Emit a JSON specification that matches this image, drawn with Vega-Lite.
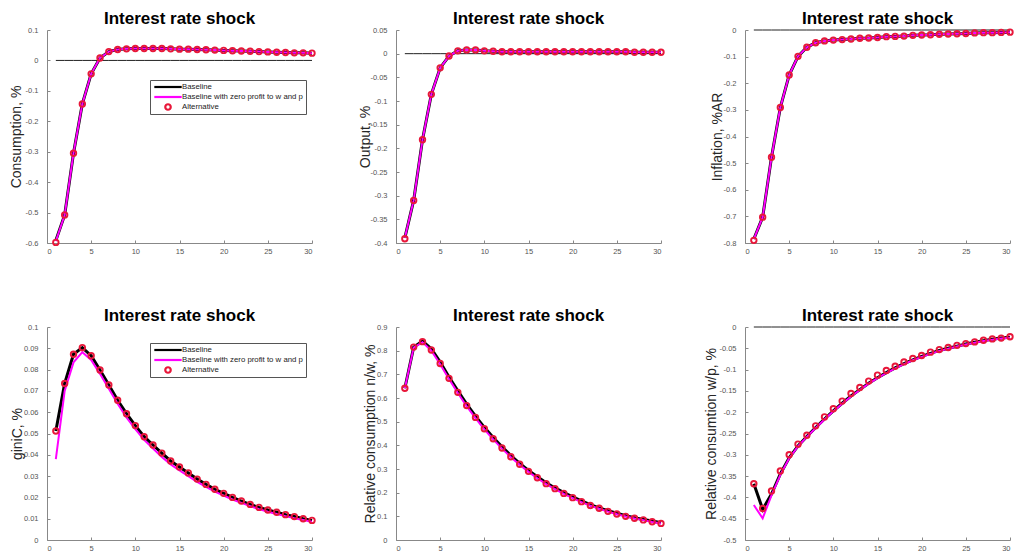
{
  "$schema": "https://vega.github.io/schema/vega-lite/v6.json",
  "padding": {"left": 9, "top": 9, "right": 5, "bottom": 3},
  "data": {"values": [
    {"p":1,"t":1,"b":-0.592,"z":-0.594,"a":-0.598},
    {"p":1,"t":2,"b":-0.508,"z":-0.508,"a":-0.508},
    {"p":1,"t":3,"b":-0.305,"z":-0.305,"a":-0.305},
    {"p":1,"t":4,"b":-0.143,"z":-0.143,"a":-0.143},
    {"p":1,"t":5,"b":-0.044,"z":-0.044,"a":-0.044},
    {"p":1,"t":6,"b":0.008,"z":0.008,"a":0.008},
    {"p":1,"t":7,"b":0.029,"z":0.029,"a":0.029},
    {"p":1,"t":8,"b":0.036,"z":0.036,"a":0.036},
    {"p":1,"t":9,"b":0.038,"z":0.038,"a":0.038},
    {"p":1,"t":10,"b":0.039,"z":0.039,"a":0.039},
    {"p":1,"t":11,"b":0.039,"z":0.039,"a":0.039},
    {"p":1,"t":12,"b":0.039,"z":0.039,"a":0.039},
    {"p":1,"t":13,"b":0.039,"z":0.039,"a":0.039},
    {"p":1,"t":14,"b":0.038,"z":0.038,"a":0.038},
    {"p":1,"t":15,"b":0.037,"z":0.037,"a":0.037},
    {"p":1,"t":16,"b":0.037,"z":0.037,"a":0.037},
    {"p":1,"t":17,"b":0.036,"z":0.036,"a":0.036},
    {"p":1,"t":18,"b":0.035,"z":0.035,"a":0.035},
    {"p":1,"t":19,"b":0.034,"z":0.034,"a":0.034},
    {"p":1,"t":20,"b":0.033,"z":0.033,"a":0.033},
    {"p":1,"t":21,"b":0.032,"z":0.032,"a":0.032},
    {"p":1,"t":22,"b":0.031,"z":0.031,"a":0.031},
    {"p":1,"t":23,"b":0.030,"z":0.030,"a":0.030},
    {"p":1,"t":24,"b":0.029,"z":0.029,"a":0.029},
    {"p":1,"t":25,"b":0.028,"z":0.028,"a":0.028},
    {"p":1,"t":26,"b":0.027,"z":0.027,"a":0.027},
    {"p":1,"t":27,"b":0.026,"z":0.026,"a":0.026},
    {"p":1,"t":28,"b":0.025,"z":0.025,"a":0.025},
    {"p":1,"t":29,"b":0.025,"z":0.025,"a":0.025},
    {"p":1,"t":30,"b":0.024,"z":0.024,"a":0.024},
    {"p":2,"t":1,"b":-0.389,"z":-0.389,"a":-0.391},
    {"p":2,"t":2,"b":-0.310,"z":-0.310,"a":-0.310},
    {"p":2,"t":3,"b":-0.182,"z":-0.182,"a":-0.182},
    {"p":2,"t":4,"b":-0.086,"z":-0.086,"a":-0.086},
    {"p":2,"t":5,"b":-0.030,"z":-0.030,"a":-0.030},
    {"p":2,"t":6,"b":-0.005,"z":-0.005,"a":-0.005},
    {"p":2,"t":7,"b":0.006,"z":0.006,"a":0.006},
    {"p":2,"t":8,"b":0.008,"z":0.008,"a":0.008},
    {"p":2,"t":9,"b":0.008,"z":0.008,"a":0.008},
    {"p":2,"t":10,"b":0.006,"z":0.006,"a":0.006},
    {"p":2,"t":11,"b":0.005,"z":0.005,"a":0.005},
    {"p":2,"t":12,"b":0.004,"z":0.004,"a":0.004},
    {"p":2,"t":13,"b":0.004,"z":0.004,"a":0.004},
    {"p":2,"t":14,"b":0.004,"z":0.004,"a":0.004},
    {"p":2,"t":15,"b":0.004,"z":0.004,"a":0.004},
    {"p":2,"t":16,"b":0.004,"z":0.004,"a":0.004},
    {"p":2,"t":17,"b":0.004,"z":0.004,"a":0.004},
    {"p":2,"t":18,"b":0.004,"z":0.004,"a":0.004},
    {"p":2,"t":19,"b":0.004,"z":0.004,"a":0.004},
    {"p":2,"t":20,"b":0.004,"z":0.004,"a":0.004},
    {"p":2,"t":21,"b":0.004,"z":0.004,"a":0.004},
    {"p":2,"t":22,"b":0.004,"z":0.004,"a":0.004},
    {"p":2,"t":23,"b":0.004,"z":0.004,"a":0.004},
    {"p":2,"t":24,"b":0.004,"z":0.004,"a":0.004},
    {"p":2,"t":25,"b":0.004,"z":0.004,"a":0.004},
    {"p":2,"t":26,"b":0.004,"z":0.004,"a":0.004},
    {"p":2,"t":27,"b":0.003,"z":0.003,"a":0.003},
    {"p":2,"t":28,"b":0.003,"z":0.003,"a":0.003},
    {"p":2,"t":29,"b":0.003,"z":0.003,"a":0.003},
    {"p":2,"t":30,"b":0.003,"z":0.003,"a":0.003},
    {"p":3,"t":1,"b":-0.785,"z":-0.785,"a":-0.790},
    {"p":3,"t":2,"b":-0.703,"z":-0.703,"a":-0.703},
    {"p":3,"t":3,"b":-0.478,"z":-0.478,"a":-0.478},
    {"p":3,"t":4,"b":-0.291,"z":-0.291,"a":-0.291},
    {"p":3,"t":5,"b":-0.169,"z":-0.169,"a":-0.169},
    {"p":3,"t":6,"b":-0.099,"z":-0.099,"a":-0.099},
    {"p":3,"t":7,"b":-0.065,"z":-0.065,"a":-0.065},
    {"p":3,"t":8,"b":-0.048,"z":-0.048,"a":-0.048},
    {"p":3,"t":9,"b":-0.041,"z":-0.041,"a":-0.041},
    {"p":3,"t":10,"b":-0.038,"z":-0.038,"a":-0.038},
    {"p":3,"t":11,"b":-0.036,"z":-0.036,"a":-0.036},
    {"p":3,"t":12,"b":-0.034,"z":-0.034,"a":-0.034},
    {"p":3,"t":13,"b":-0.031,"z":-0.031,"a":-0.031},
    {"p":3,"t":14,"b":-0.030,"z":-0.030,"a":-0.030},
    {"p":3,"t":15,"b":-0.028,"z":-0.028,"a":-0.028},
    {"p":3,"t":16,"b":-0.025,"z":-0.025,"a":-0.025},
    {"p":3,"t":17,"b":-0.024,"z":-0.024,"a":-0.024},
    {"p":3,"t":18,"b":-0.023,"z":-0.023,"a":-0.023},
    {"p":3,"t":19,"b":-0.020,"z":-0.020,"a":-0.020},
    {"p":3,"t":20,"b":-0.019,"z":-0.019,"a":-0.019},
    {"p":3,"t":21,"b":-0.018,"z":-0.018,"a":-0.018},
    {"p":3,"t":22,"b":-0.016,"z":-0.016,"a":-0.016},
    {"p":3,"t":23,"b":-0.015,"z":-0.015,"a":-0.015},
    {"p":3,"t":24,"b":-0.014,"z":-0.014,"a":-0.014},
    {"p":3,"t":25,"b":-0.013,"z":-0.013,"a":-0.013},
    {"p":3,"t":26,"b":-0.011,"z":-0.011,"a":-0.011},
    {"p":3,"t":27,"b":-0.010,"z":-0.010,"a":-0.010},
    {"p":3,"t":28,"b":-0.010,"z":-0.010,"a":-0.010},
    {"p":3,"t":29,"b":-0.009,"z":-0.009,"a":-0.009},
    {"p":3,"t":30,"b":-0.008,"z":-0.008,"a":-0.008},
    {"p":4,"t":1,"b":0.0512,"z":0.0380,"a":0.0512},
    {"p":4,"t":2,"b":0.0735,"z":0.0700,"a":0.0735},
    {"p":4,"t":3,"b":0.0872,"z":0.0834,"a":0.0872},
    {"p":4,"t":4,"b":0.0903,"z":0.0882,"a":0.0903},
    {"p":4,"t":5,"b":0.0865,"z":0.0845,"a":0.0865},
    {"p":4,"t":6,"b":0.0798,"z":0.0780,"a":0.0798},
    {"p":4,"t":7,"b":0.0728,"z":0.0710,"a":0.0728},
    {"p":4,"t":8,"b":0.0656,"z":0.0640,"a":0.0656},
    {"p":4,"t":9,"b":0.0593,"z":0.0575,"a":0.0593},
    {"p":4,"t":10,"b":0.0537,"z":0.0520,"a":0.0537},
    {"p":4,"t":11,"b":0.0485,"z":0.0470,"a":0.0485},
    {"p":4,"t":12,"b":0.0446,"z":0.0430,"a":0.0446},
    {"p":4,"t":13,"b":0.0408,"z":0.0390,"a":0.0408},
    {"p":4,"t":14,"b":0.0371,"z":0.0355,"a":0.0371},
    {"p":4,"t":15,"b":0.0343,"z":0.0327,"a":0.0343},
    {"p":4,"t":16,"b":0.0315,"z":0.0300,"a":0.0315},
    {"p":4,"t":17,"b":0.0286,"z":0.0273,"a":0.0286},
    {"p":4,"t":18,"b":0.0261,"z":0.0249,"a":0.0261},
    {"p":4,"t":19,"b":0.0238,"z":0.0227,"a":0.0238},
    {"p":4,"t":20,"b":0.0219,"z":0.0208,"a":0.0219},
    {"p":4,"t":21,"b":0.0200,"z":0.0190,"a":0.0200},
    {"p":4,"t":22,"b":0.0183,"z":0.0174,"a":0.0183},
    {"p":4,"t":23,"b":0.0167,"z":0.0159,"a":0.0167},
    {"p":4,"t":24,"b":0.0153,"z":0.0145,"a":0.0153},
    {"p":4,"t":25,"b":0.0141,"z":0.0133,"a":0.0141},
    {"p":4,"t":26,"b":0.0130,"z":0.0122,"a":0.0130},
    {"p":4,"t":27,"b":0.0119,"z":0.0112,"a":0.0119},
    {"p":4,"t":28,"b":0.0110,"z":0.0102,"a":0.0110},
    {"p":4,"t":29,"b":0.0100,"z":0.0094,"a":0.0100},
    {"p":4,"t":30,"b":0.0092,"z":0.0086,"a":0.0092},
    {"p":5,"t":1,"b":0.641,"z":0.641,"a":0.641},
    {"p":5,"t":2,"b":0.815,"z":0.813,"a":0.815},
    {"p":5,"t":3,"b":0.840,"z":0.836,"a":0.838},
    {"p":5,"t":4,"b":0.808,"z":0.800,"a":0.803},
    {"p":5,"t":5,"b":0.752,"z":0.743,"a":0.746},
    {"p":5,"t":6,"b":0.689,"z":0.680,"a":0.683},
    {"p":5,"t":7,"b":0.630,"z":0.621,"a":0.624},
    {"p":5,"t":8,"b":0.574,"z":0.565,"a":0.568},
    {"p":5,"t":9,"b":0.523,"z":0.515,"a":0.518},
    {"p":5,"t":10,"b":0.476,"z":0.467,"a":0.470},
    {"p":5,"t":11,"b":0.433,"z":0.425,"a":0.428},
    {"p":5,"t":12,"b":0.394,"z":0.386,"a":0.389},
    {"p":5,"t":13,"b":0.357,"z":0.350,"a":0.352},
    {"p":5,"t":14,"b":0.324,"z":0.318,"a":0.320},
    {"p":5,"t":15,"b":0.294,"z":0.288,"a":0.290},
    {"p":5,"t":16,"b":0.267,"z":0.261,"a":0.263},
    {"p":5,"t":17,"b":0.242,"z":0.236,"a":0.238},
    {"p":5,"t":18,"b":0.220,"z":0.215,"a":0.217},
    {"p":5,"t":19,"b":0.200,"z":0.195,"a":0.197},
    {"p":5,"t":20,"b":0.182,"z":0.177,"a":0.179},
    {"p":5,"t":21,"b":0.165,"z":0.160,"a":0.162},
    {"p":5,"t":22,"b":0.149,"z":0.145,"a":0.146},
    {"p":5,"t":23,"b":0.136,"z":0.132,"a":0.134},
    {"p":5,"t":24,"b":0.124,"z":0.120,"a":0.121},
    {"p":5,"t":25,"b":0.113,"z":0.109,"a":0.110},
    {"p":5,"t":26,"b":0.103,"z":0.099,"a":0.100},
    {"p":5,"t":27,"b":0.094,"z":0.091,"a":0.092},
    {"p":5,"t":28,"b":0.087,"z":0.084,"a":0.085},
    {"p":5,"t":29,"b":0.080,"z":0.076,"a":0.077},
    {"p":5,"t":30,"b":0.073,"z":0.070,"a":0.070},
    {"p":6,"t":1,"b":-0.368,"z":-0.418,"a":-0.368},
    {"p":6,"t":2,"b":-0.428,"z":-0.449,"a":-0.426},
    {"p":6,"t":3,"b":-0.392,"z":-0.395,"a":-0.385},
    {"p":6,"t":4,"b":-0.345,"z":-0.347,"a":-0.338},
    {"p":6,"t":5,"b":-0.307,"z":-0.308,"a":-0.300},
    {"p":6,"t":6,"b":-0.279,"z":-0.280,"a":-0.275},
    {"p":6,"t":7,"b":-0.257,"z":-0.258,"a":-0.254},
    {"p":6,"t":8,"b":-0.236,"z":-0.237,"a":-0.232},
    {"p":6,"t":9,"b":-0.216,"z":-0.217,"a":-0.211},
    {"p":6,"t":10,"b":-0.197,"z":-0.198,"a":-0.192},
    {"p":6,"t":11,"b":-0.179,"z":-0.180,"a":-0.174},
    {"p":6,"t":12,"b":-0.162,"z":-0.163,"a":-0.156},
    {"p":6,"t":13,"b":-0.147,"z":-0.148,"a":-0.142},
    {"p":6,"t":14,"b":-0.132,"z":-0.133,"a":-0.127},
    {"p":6,"t":15,"b":-0.119,"z":-0.120,"a":-0.113},
    {"p":6,"t":16,"b":-0.107,"z":-0.108,"a":-0.102},
    {"p":6,"t":17,"b":-0.096,"z":-0.097,"a":-0.092},
    {"p":6,"t":18,"b":-0.086,"z":-0.087,"a":-0.082},
    {"p":6,"t":19,"b":-0.077,"z":-0.078,"a":-0.074},
    {"p":6,"t":20,"b":-0.069,"z":-0.070,"a":-0.067},
    {"p":6,"t":21,"b":-0.062,"z":-0.063,"a":-0.059},
    {"p":6,"t":22,"b":-0.055,"z":-0.056,"a":-0.053},
    {"p":6,"t":23,"b":-0.050,"z":-0.051,"a":-0.048},
    {"p":6,"t":24,"b":-0.045,"z":-0.046,"a":-0.043},
    {"p":6,"t":25,"b":-0.040,"z":-0.041,"a":-0.039},
    {"p":6,"t":26,"b":-0.036,"z":-0.037,"a":-0.035},
    {"p":6,"t":27,"b":-0.032,"z":-0.033,"a":-0.031},
    {"p":6,"t":28,"b":-0.029,"z":-0.030,"a":-0.028},
    {"p":6,"t":29,"b":-0.026,"z":-0.027,"a":-0.026},
    {"p":6,"t":30,"b":-0.024,"z":-0.025,"a":-0.023}
  ]},
  "columns": 3,
  "spacing": {"row": 84, "column": 84},
  "bounds": "flush",
  "resolve": {
    "scale": {"color": "independent", "shape": "independent"},
    "legend": {"color": "independent", "shape": "independent"}
  },
  "concat": [
    {
      "title": "Interest rate shock",
      "width": 265, "height": 213,
      "transform": [{"filter": "datum.p == 1"}, {"fold": ["b", "z", "a"], "as": ["s", "v"]}],
      "encoding": {
        "x": {"field": "t", "type": "quantitative", "scale": {"domain": [0, 30], "nice": false}, "axis": {"title": null, "values": [0, 5, 10, 15, 20, 25, 30], "labelExpr": "'' + datum.value"}},
        "y": {"field": "v", "type": "quantitative", "scale": {"domain": [-0.6, 0.1], "nice": false, "zero": false}, "axis": {"title": "Consumption, %", "titleX": -31, "values": [0.1, 0, -0.1, -0.2, -0.3, -0.4, -0.5, -0.6], "labelExpr": "'' + datum.value"}}
      },
      "layer": [
        {"transform": [{"filter": "datum.s == 'a'"}], "mark": {"type": "line", "color": "#222222", "strokeWidth": 1}, "encoding": {"y": {"datum": 0}}},
        {"transform": [{"filter": "datum.s == 'b'"}], "mark": {"type": "line", "strokeWidth": 3}, "encoding": {"color": {"field": "s", "type": "nominal", "scale": {"domain": ["b", "z", "a"], "range": ["#000000", "#ff00ff", "#e8173a"]}, "legend": {"title": null, "orient": "none", "legendX": 103, "legendY": 50, "labelExpr": "datum.label == 'b' ? 'Baseline' : datum.label == 'z' ? 'Baseline with zero profit to w and p' : 'Alternative'"}}}},
        {"transform": [{"filter": "datum.s == 'z'"}], "mark": {"type": "line", "strokeWidth": 2}, "encoding": {"color": {"field": "s", "type": "nominal", "scale": {"domain": ["b", "z", "a"], "range": ["#000000", "#ff00ff", "#e8173a"]}, "legend": {"title": null, "orient": "none", "legendX": 103, "legendY": 50, "labelExpr": "datum.label == 'b' ? 'Baseline' : datum.label == 'z' ? 'Baseline with zero profit to w and p' : 'Alternative'"}}}},
        {"transform": [{"filter": "datum.s == 'a'"}], "mark": {"type": "point", "filled": false, "strokeWidth": 1.9, "size": 30, "opacity": 1}, "encoding": {
          "color": {"field": "s", "type": "nominal", "scale": {"domain": ["b", "z", "a"], "range": ["#000000", "#ff00ff", "#e8173a"]}, "legend": {"title": null, "orient": "none", "legendX": 103, "legendY": 50, "labelExpr": "datum.label == 'b' ? 'Baseline' : datum.label == 'z' ? 'Baseline with zero profit to w and p' : 'Alternative'"}},
          "shape": {"field": "s", "type": "nominal", "scale": {"domain": ["b", "z", "a"], "range": ["M-5,0H5", "M-5,0H5", "circle"]}, "legend": {"title": null, "orient": "none", "legendX": 103, "legendY": 50, "labelExpr": "datum.label == 'b' ? 'Baseline' : datum.label == 'z' ? 'Baseline with zero profit to w and p' : 'Alternative'"}}
        }}
      ]
    },
    {
      "title": "Interest rate shock",
      "width": 265, "height": 213,
      "transform": [{"filter": "datum.p == 2"}, {"fold": ["b", "z", "a"], "as": ["s", "v"]}],
      "encoding": {
        "x": {"field": "t", "type": "quantitative", "scale": {"domain": [0, 30], "nice": false}, "axis": {"title": null, "values": [0, 5, 10, 15, 20, 25, 30], "labelExpr": "'' + datum.value"}},
        "y": {"field": "v", "type": "quantitative", "scale": {"domain": [-0.4, 0.05], "nice": false, "zero": false}, "axis": {"title": "Output, %", "titleX": -31, "values": [0.05, 0, -0.05, -0.1, -0.15, -0.2, -0.25, -0.3, -0.35, -0.4], "labelExpr": "'' + datum.value"}}
      },
      "layer": [
        {"transform": [{"filter": "datum.s == 'a'"}], "mark": {"type": "line", "color": "#222222", "strokeWidth": 1}, "encoding": {"y": {"datum": 0}}},
        {"transform": [{"filter": "datum.s == 'b'"}], "mark": {"type": "line", "strokeWidth": 3, "color": "#000000"}},
        {"transform": [{"filter": "datum.s == 'z'"}], "mark": {"type": "line", "strokeWidth": 2, "color": "#ff00ff"}},
        {"transform": [{"filter": "datum.s == 'a'"}], "mark": {"type": "point", "filled": false, "strokeWidth": 1.9, "size": 30, "opacity": 1, "color": "#e8173a"}}
      ]
    },
    {
      "title": "Interest rate shock",
      "width": 265, "height": 213,
      "transform": [{"filter": "datum.p == 3"}, {"fold": ["b", "z", "a"], "as": ["s", "v"]}],
      "encoding": {
        "x": {"field": "t", "type": "quantitative", "scale": {"domain": [0, 30], "nice": false}, "axis": {"title": null, "values": [0, 5, 10, 15, 20, 25, 30], "labelExpr": "'' + datum.value"}},
        "y": {"field": "v", "type": "quantitative", "scale": {"domain": [-0.8, 0], "nice": false, "zero": false}, "axis": {"title": "Inflation, %AR", "titleX": -28, "values": [0, -0.1, -0.2, -0.3, -0.4, -0.5, -0.6, -0.7, -0.8], "labelExpr": "'' + datum.value"}}
      },
      "layer": [
        {"transform": [{"filter": "datum.s == 'a'"}], "mark": {"type": "line", "color": "#222222", "strokeWidth": 1}, "encoding": {"y": {"datum": 0}}},
        {"transform": [{"filter": "datum.s == 'b'"}], "mark": {"type": "line", "strokeWidth": 3, "color": "#000000"}},
        {"transform": [{"filter": "datum.s == 'z'"}], "mark": {"type": "line", "strokeWidth": 2, "color": "#ff00ff"}},
        {"transform": [{"filter": "datum.s == 'a'"}], "mark": {"type": "point", "filled": false, "strokeWidth": 1.9, "size": 30, "opacity": 1, "color": "#e8173a"}}
      ]
    },
    {
      "title": "Interest rate shock",
      "width": 265, "height": 213,
      "transform": [{"filter": "datum.p == 4"}, {"fold": ["b", "z", "a"], "as": ["s", "v"]}],
      "encoding": {
        "x": {"field": "t", "type": "quantitative", "scale": {"domain": [0, 30], "nice": false}, "axis": {"title": null, "values": [0, 5, 10, 15, 20, 25, 30], "labelExpr": "'' + datum.value"}},
        "y": {"field": "v", "type": "quantitative", "scale": {"domain": [0, 0.1], "nice": false, "zero": false}, "axis": {"title": "giniC, %", "titleX": -30, "values": [0, 0.01, 0.02, 0.03, 0.04, 0.05, 0.06, 0.07, 0.08, 0.09, 0.1], "labelExpr": "'' + datum.value"}}
      },
      "layer": [
        {"transform": [{"filter": "datum.s == 'b'"}], "mark": {"type": "line", "strokeWidth": 3}, "encoding": {"color": {"field": "s", "type": "nominal", "scale": {"domain": ["b", "z", "a"], "range": ["#000000", "#ff00ff", "#e8173a"]}, "legend": {"title": null, "orient": "none", "legendX": 103, "legendY": 16, "labelExpr": "datum.label == 'b' ? 'Baseline' : datum.label == 'z' ? 'Baseline with zero profit to w and p' : 'Alternative'"}}}},
        {"transform": [{"filter": "datum.s == 'z'"}], "mark": {"type": "line", "strokeWidth": 2}, "encoding": {"color": {"field": "s", "type": "nominal", "scale": {"domain": ["b", "z", "a"], "range": ["#000000", "#ff00ff", "#e8173a"]}, "legend": {"title": null, "orient": "none", "legendX": 103, "legendY": 16, "labelExpr": "datum.label == 'b' ? 'Baseline' : datum.label == 'z' ? 'Baseline with zero profit to w and p' : 'Alternative'"}}}},
        {"transform": [{"filter": "datum.s == 'a'"}], "mark": {"type": "point", "filled": false, "strokeWidth": 1.9, "size": 30, "opacity": 1}, "encoding": {
          "color": {"field": "s", "type": "nominal", "scale": {"domain": ["b", "z", "a"], "range": ["#000000", "#ff00ff", "#e8173a"]}, "legend": {"title": null, "orient": "none", "legendX": 103, "legendY": 16, "labelExpr": "datum.label == 'b' ? 'Baseline' : datum.label == 'z' ? 'Baseline with zero profit to w and p' : 'Alternative'"}},
          "shape": {"field": "s", "type": "nominal", "scale": {"domain": ["b", "z", "a"], "range": ["M-5,0H5", "M-5,0H5", "circle"]}, "legend": {"title": null, "orient": "none", "legendX": 103, "legendY": 16, "labelExpr": "datum.label == 'b' ? 'Baseline' : datum.label == 'z' ? 'Baseline with zero profit to w and p' : 'Alternative'"}}
        }}
      ]
    },
    {
      "title": "Interest rate shock",
      "width": 265, "height": 213,
      "transform": [{"filter": "datum.p == 5"}, {"fold": ["b", "z", "a"], "as": ["s", "v"]}],
      "encoding": {
        "x": {"field": "t", "type": "quantitative", "scale": {"domain": [0, 30], "nice": false}, "axis": {"title": null, "values": [0, 5, 10, 15, 20, 25, 30], "labelExpr": "'' + datum.value"}},
        "y": {"field": "v", "type": "quantitative", "scale": {"domain": [0, 0.9], "nice": false, "zero": false}, "axis": {"title": "Relative consumption n/w, %", "titleX": -26, "values": [0, 0.1, 0.2, 0.3, 0.4, 0.5, 0.6, 0.7, 0.8, 0.9], "labelExpr": "'' + datum.value"}}
      },
      "layer": [
        {"transform": [{"filter": "datum.s == 'b'"}], "mark": {"type": "line", "strokeWidth": 3, "color": "#000000"}},
        {"transform": [{"filter": "datum.s == 'z'"}], "mark": {"type": "line", "strokeWidth": 2, "color": "#ff00ff"}},
        {"transform": [{"filter": "datum.s == 'a'"}], "mark": {"type": "point", "filled": false, "strokeWidth": 1.9, "size": 30, "opacity": 1, "color": "#e8173a"}}
      ]
    },
    {
      "title": "Interest rate shock",
      "width": 265, "height": 213,
      "transform": [{"filter": "datum.p == 6"}, {"fold": ["b", "z", "a"], "as": ["s", "v"]}],
      "encoding": {
        "x": {"field": "t", "type": "quantitative", "scale": {"domain": [0, 30], "nice": false}, "axis": {"title": null, "values": [0, 5, 10, 15, 20, 25, 30], "labelExpr": "'' + datum.value"}},
        "y": {"field": "v", "type": "quantitative", "scale": {"domain": [-0.5, 0], "nice": false, "zero": false}, "axis": {"title": "Relative consumtion w/p, %", "titleX": -34, "values": [0, -0.05, -0.1, -0.15, -0.2, -0.25, -0.3, -0.35, -0.4, -0.45, -0.5], "labelExpr": "'' + datum.value"}}
      },
      "layer": [
        {"transform": [{"filter": "datum.s == 'a'"}], "mark": {"type": "line", "color": "#222222", "strokeWidth": 1}, "encoding": {"y": {"datum": 0}}},
        {"transform": [{"filter": "datum.s == 'b'"}], "mark": {"type": "line", "strokeWidth": 3, "color": "#000000"}},
        {"transform": [{"filter": "datum.s == 'z'"}], "mark": {"type": "line", "strokeWidth": 2, "color": "#ff00ff"}},
        {"transform": [{"filter": "datum.s == 'a'"}], "mark": {"type": "point", "filled": false, "strokeWidth": 1.9, "size": 30, "opacity": 1, "color": "#e8173a"}}
      ]
    }
  ],
  "config": {
    "view": {"stroke": null},
    "font": "Liberation Sans",
    "axis": {"grid": false, "domainColor": "#888888", "tickColor": "#888888", "tickSize": -3, "labelFontSize": 7.5, "labelColor": "#555555", "labelFont": "Liberation Sans", "titleFont": "Liberation Sans", "titleFontSize": 14, "titleFontWeight": "normal", "titleColor": "#262626"},
    "axisX": {"labelPadding": 7},
    "axisY": {"labelPadding": 12, "titleBaseline": "middle", "titleAlign": "center"},
    "title": {"fontSize": 17, "fontWeight": "bold", "color": "#000000", "baseline": "alphabetic", "offset": -2, "frame": "group", "anchor": "middle", "font": "Liberation Sans"},
    "legend": {"labelFontSize": 7.8, "labelColor": "#222222", "labelFont": "Liberation Sans", "padding": 3, "rowPadding": 2, "clipHeight": 8, "strokeColor": "#555555", "fillColor": "#ffffff", "symbolOffset": 11, "labelOffset": 10, "symbolStrokeWidth": 2.2, "symbolSize": 30}
  }
}
